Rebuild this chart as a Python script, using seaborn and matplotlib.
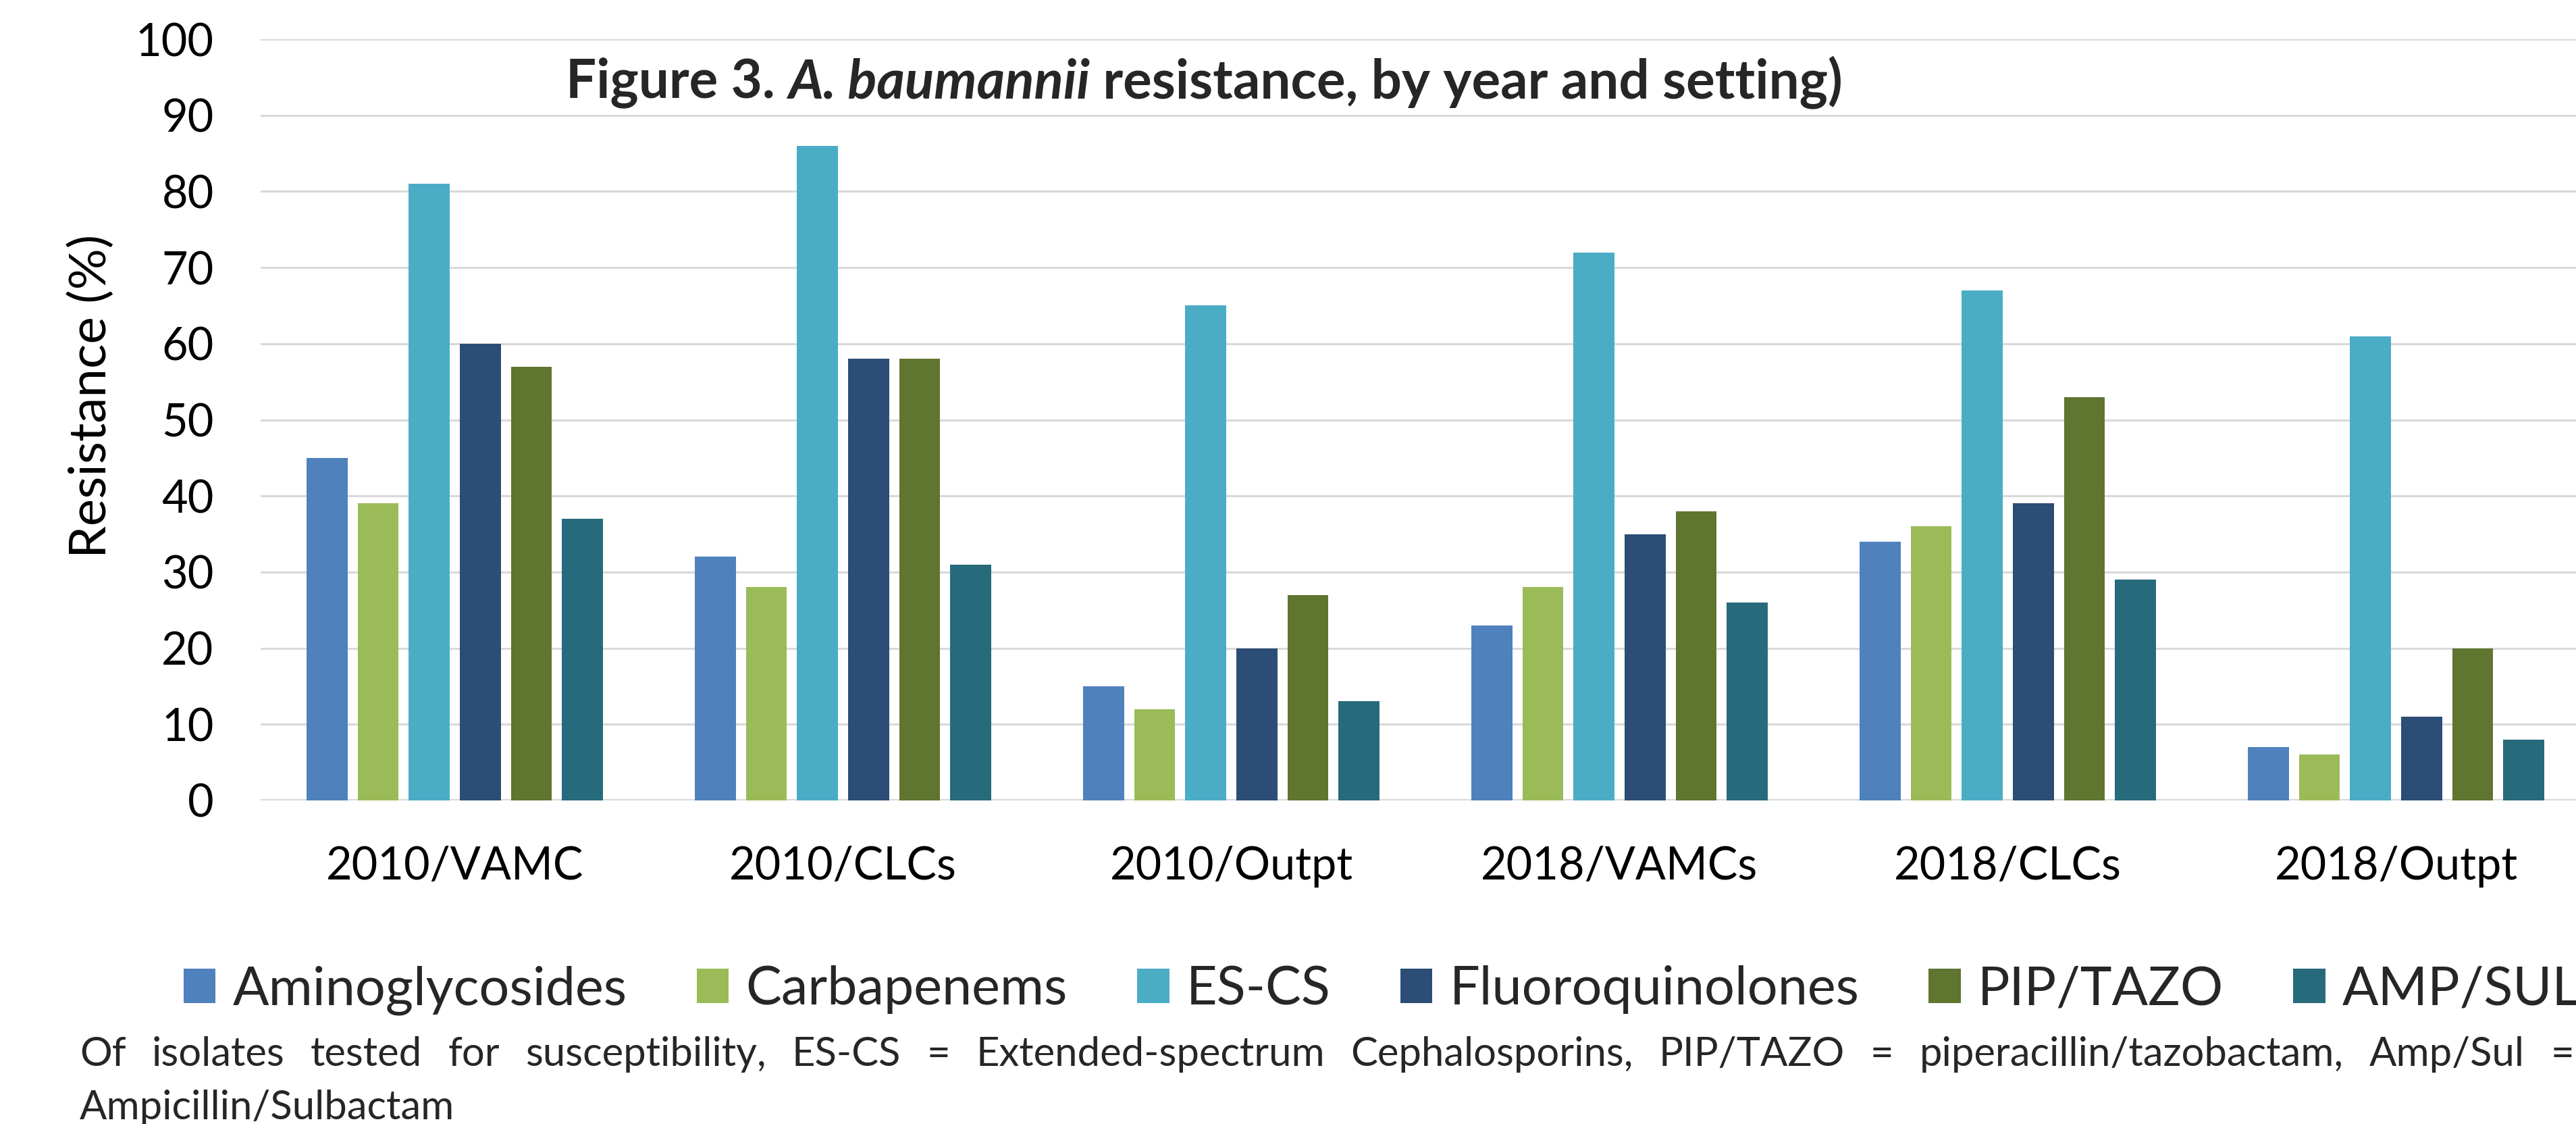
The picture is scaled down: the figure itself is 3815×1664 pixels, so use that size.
"""
A. baumannii resistance by year and setting - grouped bar chart
"""
import numpy as np
import pandas as pd
import matplotlib
matplotlib.use('Agg')
import matplotlib.pyplot as plt
import seaborn as sns

# ============ data ============
settings = ['2010/VAMC', '2010/CLCs', '2010/Outpt', '2018/VAMCs', '2018/CLCs', '2018/Outpt']
drugs = ['Aminoglycosides', 'Carbapenems', 'ES-CS', 'Fluoroquinolones', 'PIP/TAZO', 'AMP/SUL']

aminoglycosides = [45, 32, 15, 23, 34, 7]
carbapenems = [39, 28, 12, 28, 36, 6]
es_cs = [81, 86, 65, 72, 67, 61]
fluoroquinolones = [60, 58, 20, 35, 39, 11]
pip_tazo = [57, 58, 27, 38, 53, 20]
amp_sul = [37, 31, 13, 26, 29, 8]

y_ticks = [0, 10, 20, 30, 40, 50, 60, 70, 80, 90, 100]

colors = ['#4F81BD', '#9BBB59', '#4BACC6', '#2C4D75', '#5F7530', '#276A7C']

footnote_line1 = ('Of isolates tested for susceptibility, ES-CS = Extended-spectrum Cephalosporins, '
                  'PIP/TAZO = piperacillin/tazobactam, Amp/Sul =')
footnote_line2 = 'Ampicillin/Sulbactam'
# ==============================

series = [aminoglycosides, carbapenems, es_cs, fluoroquinolones, pip_tazo, amp_sul]
rows = []
for drug, vals in zip(drugs, series):
    for s, v in zip(settings, vals):
        rows.append({'setting': s, 'drug': drug, 'value': v})
df = pd.DataFrame(rows)

sns.set_theme(style='white')
plt.rcParams['font.family'] = ['Lato', 'DejaVu Sans']

W, H, DPI = 3816, 1664, 100
fig = plt.figure(figsize=(W / DPI, H / DPI), dpi=DPI)
ax = fig.add_axes([386 / W, 1 - 1185 / H, 3450 / W, 1127 / H])

sns.barplot(data=df, x='setting', y='value', hue='drug', order=settings,
            hue_order=drugs, palette=colors, saturation=1, width=0.79, gap=0.2,
            linewidth=0, ax=ax)

ax.set_ylim(0, 100)
ax.set_yticks(y_ticks)
ax.set_xlim(-0.5, len(settings) - 0.5)
ax.yaxis.grid(True, color='#D9D9D9', linewidth=2.2)
ax.set_axisbelow(True)
for sp in ax.spines.values():
    sp.set_visible(False)
ax.axhline(0, color='#D9D9D9', linewidth=3, zorder=0.5)
ax.tick_params(axis='both', length=0, labelsize=48, colors='black')
ax.tick_params(axis='x', pad=48)
ax.tick_params(axis='y', pad=50)
ax.set_xlabel('')
ax.set_ylabel('Resistance (%)', fontsize=55, color='black')
ax.yaxis.set_label_coords(-0.0625, 0.531)

# legend below the plot
handles, labels = ax.get_legend_handles_labels()
ax.get_legend().remove()
fig.legend(handles, labels, loc='center left', bbox_to_anchor=(272 / W, 1 - 1466 / H),
           ncol=6, frameon=False, fontsize=57, handlelength=0.6, handleheight=0.62,
           handletextpad=0.32, columnspacing=1.3, borderpad=0, borderaxespad=0)

# title (inside plot area)
TS = 57.5
fig.text(838 / W, 1 - 122 / H, 'Figure 3. ', fontsize=TS, fontweight='bold', va='center')
fig.canvas.draw()
r = fig.canvas.get_renderer()
t1 = fig.texts[-1]
x_px = 838 + t1.get_window_extent(r).width
t2 = fig.text(x_px / W, 1 - 122 / H, 'A. baumannii', fontsize=TS, fontweight='bold',
              style='italic', va='center')
x_px += t2.get_window_extent(r).width
fig.text(x_px / W, 1 - 122 / H, ' resistance, by year and setting)', fontsize=TS,
         fontweight='bold', va='center')

# justified footnote line 1
words = footnote_line1.split()
word_objs = [fig.text(0, 0, w, fontsize=43, va='center') for w in words]
fig.canvas.draw()
widths = [t.get_window_extent(r).width for t in word_objs]
x0, x1 = 118, 3812
space = (x1 - x0 - sum(widths)) / (len(words) - 1)
x = x0
for t, w in zip(word_objs, widths):
    t.set_position((x / W, 1 - 1561 / H))
    x += w + space
fig.text(x0 / W, 1 - 1640 / H, footnote_line2, fontsize=43, va='center')

fig.savefig('out.png', dpi=DPI)
